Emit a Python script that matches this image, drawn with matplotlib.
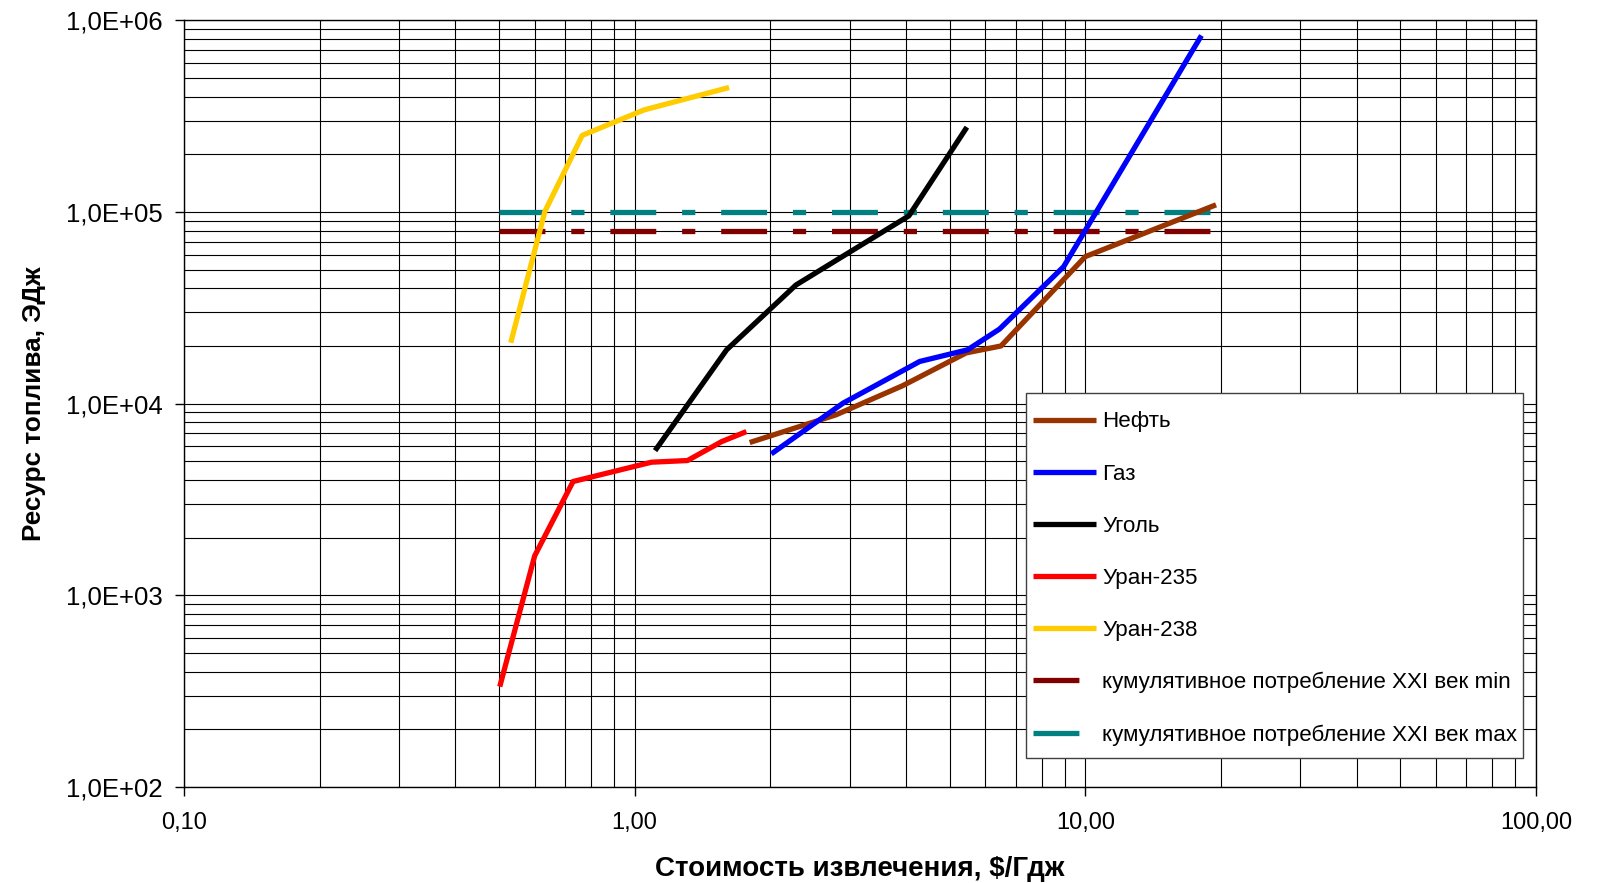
import numpy as np
import matplotlib.pyplot as plt
from matplotlib.patches import Rectangle
from matplotlib.ticker import FuncFormatter, LogLocator, NullFormatter

plt.rcParams['font.family'] = ['Liberation Sans', 'DejaVu Sans']

# ---- данные ----
oil_x = [1.80, 2.80, 3.93, 5.44, 6.50, 10.0, 19.5]
oil_y = [6270, 8750, 12400, 18400, 20000, 58500, 109000]

gas_x = [2.01, 2.90, 4.29, 5.48, 6.45, 8.95, 18.1]
gas_y = [5470, 10060, 16600, 19100, 24500, 51800, 833000]

coal_x = [1.11, 1.60, 2.28, 4.06, 5.46]
coal_y = [5690, 19100, 41600, 95500, 277000]

u235_x = [0.502, 0.600, 0.730, 1.09, 1.31, 1.56, 1.77]
u235_y = [334, 1607, 3925, 4950, 5050, 6340, 7150]

u238_x = [0.531, 0.632, 0.765, 1.05, 1.62]
u238_y = [20800, 100500, 251000, 341000, 446000]

cons_x = [0.5, 20.0]
cons_min = [8.0e4, 8.0e4]
cons_max = [1.0e5, 1.0e5]

series = [
    (oil_x, oil_y, '#993300', 'Нефть'),
    (gas_x, gas_y, '#0000FF', 'Газ'),
    (coal_x, coal_y, '#000000', 'Уголь'),
    (u235_x, u235_y, '#FF0000', 'Уран-235'),
    (u238_x, u238_y, '#FFCC00', 'Уран-238'),
]

LW = 3.8
DASH = (0, (8.7, 4.9, 2.5, 4.9))  # длинный штрих, пробел, короткий, пробел

fig = plt.figure(figsize=(15.97, 8.83), dpi=100)
ax = fig.add_axes([0.1152, 0.1087, 0.8466, 0.8683])

for x, y, c, name in series:
    ax.plot(x, y, color=c, lw=LW, label=name, solid_capstyle='butt', zorder=3)

ax.plot(cons_x, cons_min, color='#800000', lw=LW, linestyle=DASH,
        dash_capstyle='butt', label='кумулятивное потребление XXI век min', zorder=2)
ax.plot(cons_x, cons_max, color='#008080', lw=LW, linestyle=DASH,
        dash_capstyle='butt', label='кумулятивное потребление XXI век max', zorder=2)

ax.set_xscale('log')
ax.set_yscale('log')
ax.set_xlim(0.1, 100)
ax.set_ylim(1e2, 1e6)

ax.xaxis.set_minor_locator(LogLocator(base=10, subs=np.arange(2, 10)))
ax.yaxis.set_minor_locator(LogLocator(base=10, subs=np.arange(2, 10)))
ax.xaxis.set_minor_formatter(NullFormatter())
ax.yaxis.set_minor_formatter(NullFormatter())
ax.xaxis.set_major_formatter(FuncFormatter(lambda v, p: f"{v:.2f}".replace('.', ',')))
ax.yaxis.set_major_formatter(FuncFormatter(lambda v, p: "1,0E+%02d" % round(np.log10(v))))

ax.tick_params(which='major', length=6.5, width=1, direction='out')
ax.tick_params(axis='x', which='major', pad=11.5, labelsize=17)
ax.tick_params(axis='y', which='major', pad=9, labelsize=18.5)
ax.tick_params(which='minor', length=0)

ax.grid(which='both', color='black', lw=0.8)
ax.set_axisbelow(True)
for s in ax.spines.values():
    s.set_linewidth(1)
    s.set_color('black')

ax.set_xlabel('Стоимость извлечения, $/Гдж', fontsize=20, fontweight='bold', labelpad=16)
ax.set_ylabel('Ресурс топлива, ЭДж', fontsize=18.8, fontweight='bold', labelpad=14)

# рамка легенды отдельно, чтобы поля совпали с оригиналом
ax.add_patch(Rectangle((0.6226, 0.0382), 0.3677, 0.4758, transform=ax.transAxes,
                       facecolor='white', edgecolor='#404040', lw=1, zorder=4))
leg = ax.legend(loc='upper left', bbox_to_anchor=(0.6277, 0.4898), borderaxespad=0,
                frameon=False, fontsize=16.1, handlelength=2.83, handletextpad=0.28,
                labelspacing=1.39, borderpad=0)
leg.set_zorder(5)

fig.savefig('out.png', dpi=100)
